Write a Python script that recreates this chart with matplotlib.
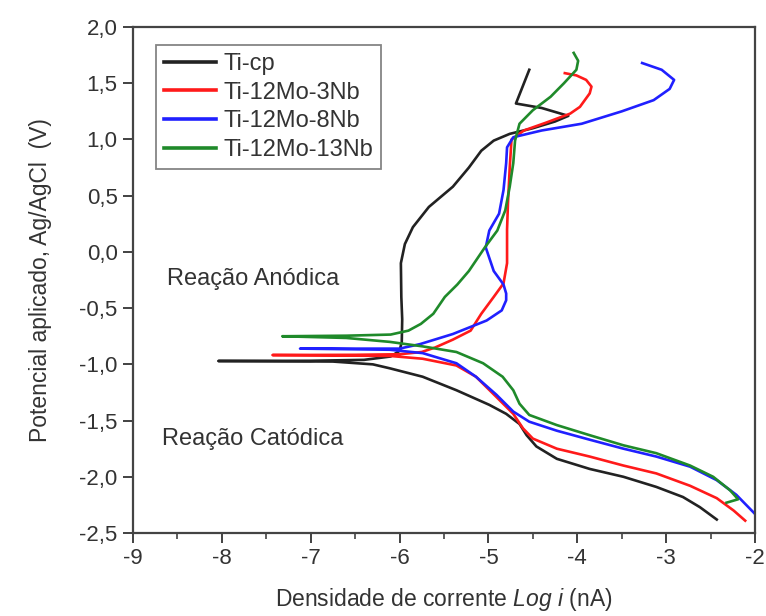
import matplotlib
matplotlib.use('Agg')
import matplotlib.pyplot as plt
from matplotlib.ticker import MultipleLocator, FuncFormatter

plt.rcParams['font.family'] = ['Liberation Sans', 'DejaVu Sans']
plt.rcParams['mathtext.fontset'] = 'custom'
plt.rcParams['mathtext.rm'] = 'Liberation Sans'
plt.rcParams['mathtext.it'] = 'Liberation Sans:italic'

labels = ['Ti-cp', 'Ti-12Mo-3Nb', 'Ti-12Mo-8Nb', 'Ti-12Mo-13Nb']
colors = ['#222222', '#ff1a1a', '#2020ff', '#1f8a2a']

# each curve: cathodic branch (high current -> Ecorr) then anodic branch
ticp_logi = [-2.43, -2.62, -2.81, -3.11, -3.48, -3.86, -4.23, -4.46, -4.57, -4.65,
             -4.80, -4.99, -5.36, -5.74, -6.11, -6.30, -6.75, -8.04,
             -7.00, -6.40, -6.10, -6.00, -5.975, -5.97, -5.98, -5.985, -5.94,
             -5.85, -5.67, -5.40, -5.22, -5.08, -4.94, -4.76, -4.50, -4.25,
             -4.10, -4.40, -4.69, -4.54]
ticp_E = [-2.38, -2.27, -2.18, -2.09, -2.00, -1.93, -1.84, -1.73, -1.63, -1.53,
          -1.44, -1.36, -1.23, -1.11, -1.035, -1.00, -0.975, -0.97,
          -0.968, -0.96, -0.93, -0.88, -0.80, -0.60, -0.40, -0.10, 0.07,
          0.22, 0.40, 0.58, 0.75, 0.90, 0.99, 1.05, 1.10, 1.16,
          1.21, 1.28, 1.32, 1.62]

nb3_logi = [-2.11, -2.24, -2.43, -2.73, -3.11, -3.48, -3.86, -4.23, -4.50, -4.61,
            -4.72, -4.91, -5.14, -5.36, -5.74, -6.11, -7.43,
            -6.50, -6.00, -5.75, -5.60, -5.40, -5.20, -5.08, -4.94, -4.83,
            -4.79, -4.79, -4.78, -4.76, -4.74, -4.60, -4.35, -4.08, -3.97,
            -3.86, -3.84, -3.90, -4.01, -4.14]
nb3_E = [-2.39, -2.30, -2.19, -2.08, -1.97, -1.90, -1.82, -1.75, -1.66, -1.57,
         -1.44, -1.29, -1.11, -1.01, -0.95, -0.925, -0.917,
         -0.915, -0.91, -0.89, -0.85, -0.78, -0.70, -0.55, -0.40, -0.28,
         -0.10, 0.20, 0.43, 0.75, 1.00, 1.08, 1.15, 1.23, 1.29,
         1.41, 1.47, 1.53, 1.57, 1.59]

nb8_logi = [-2.00, -2.21, -2.43, -2.73, -3.11, -3.48, -3.86, -4.23, -4.54, -4.72,
            -4.91, -5.14, -5.36, -5.74, -6.11, -7.12,
            -6.50, -6.00, -5.77, -5.40, -5.02, -4.85, -4.80, -4.80, -4.83,
            -4.94, -5.03, -4.99, -4.88, -4.83, -4.80, -4.79, -4.72, -4.40,
            -3.95, -3.50, -3.14, -2.96, -2.91, -3.05, -3.27]
nb8_E = [-2.33, -2.16, -2.03, -1.91, -1.82, -1.75, -1.67, -1.59, -1.51, -1.42,
         -1.27, -1.11, -0.99, -0.90, -0.87, -0.86,
         -0.86, -0.86, -0.82, -0.73, -0.61, -0.52, -0.43, -0.37, -0.29,
         -0.17, 0.04, 0.19, 0.34, 0.55, 0.79, 0.93, 1.02, 1.08,
         1.14, 1.25, 1.35, 1.45, 1.53, 1.62, 1.68]

nb13_logi = [-2.32, -2.19, -2.28, -2.47, -2.73, -3.11, -3.48, -3.86, -4.23, -4.54,
             -4.65, -4.72, -4.84, -5.06, -5.36, -5.74, -6.11, -6.60, -7.32,
             -6.60, -6.10, -5.90, -5.76, -5.62, -5.49, -5.35, -5.22, -5.04,
             -4.90, -4.81, -4.76, -4.72, -4.70, -4.65, -4.50, -4.30, -4.15,
             -4.01, -3.99, -4.04]
nb13_E = [-2.23, -2.20, -2.12, -2.00, -1.90, -1.79, -1.72, -1.63, -1.54, -1.45,
          -1.35, -1.23, -1.11, -0.99, -0.89, -0.84, -0.80, -0.765, -0.75,
          -0.745, -0.735, -0.70, -0.64, -0.55, -0.40, -0.29, -0.17, 0.04,
          0.19, 0.37, 0.58, 0.79, 0.99, 1.14, 1.26, 1.38, 1.50,
          1.62, 1.70, 1.77]

fig = plt.figure(figsize=(7.66, 6.16), dpi=100)
ax = fig.add_axes([0.1736, 0.1347, 0.812, 0.8214])

ax.plot(ticp_logi, ticp_E, color=colors[0], lw=1.9, label=labels[0])
ax.plot(nb3_logi, nb3_E, color=colors[1], lw=1.9, label=labels[1])
ax.plot(nb8_logi, nb8_E, color=colors[2], lw=1.9, label=labels[2])
ax.plot(nb13_logi, nb13_E, color=colors[3], lw=1.9, label=labels[3])

ax.set_xlim(-9, -2)
ax.set_ylim(-2.5, 2.0)
ax.xaxis.set_major_locator(MultipleLocator(1))
ax.xaxis.set_minor_locator(MultipleLocator(0.5))
ax.yaxis.set_major_locator(MultipleLocator(0.5))
ax.yaxis.set_major_formatter(FuncFormatter(lambda v, p: ('%.1f' % round(v, 1)).replace('.', ',').replace('-0,0', '0,0')))
ax.xaxis.set_major_formatter(FuncFormatter(lambda v, p: '%d' % round(v)))
ax.tick_params(which='major', direction='out', length=7, width=1.3, labelsize=16, colors='#333333', pad=4)
ax.tick_params(which='minor', direction='out', length=4, width=1.1, colors='#333333')
for s in ax.spines.values():
    s.set_linewidth(1.6)
    s.set_color('#444444')

ax.set_xlabel(r'Densidade de corrente $Log\ i$ (nA)', fontsize=16.5, color='#333333', labelpad=12)
ax.set_ylabel('Potencial aplicado, Ag/AgCl  (V)', fontsize=16.5, color='#333333', labelpad=20)

ax.text(-8.62, -0.24, 'Reação Anódica', fontsize=17, color='#333333', va='center')
ax.text(-8.67, -1.66, 'Reação Catódica', fontsize=17, color='#333333', va='center')

leg = ax.legend(loc='upper left', bbox_to_anchor=(0.037, 0.965), fontsize=17, frameon=True,
                fancybox=False, edgecolor='#666666', handlelength=2.2, handletextpad=0.3,
                borderpad=0.35, labelspacing=0.28, borderaxespad=0)
leg.get_frame().set_linewidth(1.3)
for t in leg.get_texts():
    t.set_color('#333333')
for h in leg.get_lines():
    h.set_linewidth(2.6)

plt.savefig('out.png')
